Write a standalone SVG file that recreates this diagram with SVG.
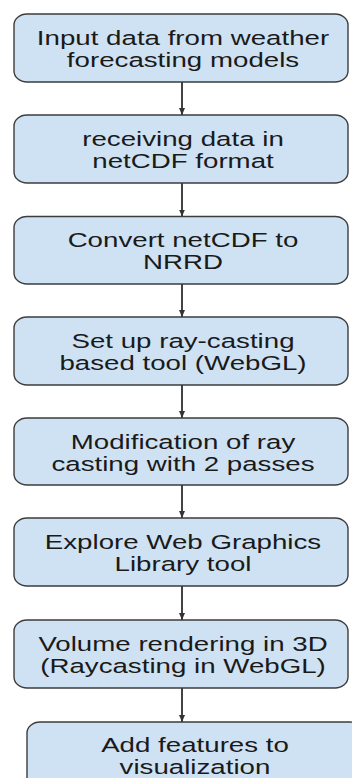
<svg xmlns="http://www.w3.org/2000/svg" width="352" height="778" viewBox="0 0 352 778">
<defs>
<style>
.box{fill:#cfe2f3;stroke:#3d3d3d;stroke-width:1.4}
.lbl{font-family:"Liberation Sans",Arial,sans-serif;font-size:19.5px;fill:#1a1a1a;text-anchor:middle}
.edge{stroke:#434343;stroke-width:2;fill:none;marker-end:url(#ah)}
</style>
<marker id="ah" markerWidth="8" markerHeight="6" refX="7" refY="3" orient="auto" markerUnits="userSpaceOnUse">
<path d="M0,0 L7,3 L0,6 Z" fill="#333"/>
</marker>
</defs>
<rect width="352" height="778" fill="#ffffff"/>
<g id="connectors">
<line class="edge" x1="182" y1="82" x2="182" y2="115"/>
<line class="edge" x1="182" y1="183" x2="182" y2="216.5"/>
<line class="edge" x1="182" y1="284" x2="182" y2="317"/>
<line class="edge" x1="182" y1="385" x2="182" y2="418"/>
<line class="edge" x1="182" y1="485" x2="182" y2="518"/>
<line class="edge" x1="182" y1="586" x2="182" y2="620"/>
<line class="edge" x1="182" y1="688" x2="182" y2="722"/>
</g>
<g id="n1">
<rect class="box" x="14" y="14" width="334" height="68" rx="13" ry="11"/>
<g transform="translate(183,0) scale(1.42,1)"><text class="lbl" x="0" y="45">Input data from weather</text><text class="lbl" x="0" y="67">forecasting models</text></g>
</g>
<g id="n2">
<rect class="box" x="14" y="115" width="334" height="68" rx="13" ry="11"/>
<g transform="translate(183,0) scale(1.42,1)"><text class="lbl" x="0" y="146">receiving data in</text><text class="lbl" x="0" y="168">netCDF format</text></g>
</g>
<g id="n3">
<rect class="box" x="14" y="216.5" width="334" height="67.5" rx="13" ry="11"/>
<g transform="translate(183,0) scale(1.42,1)"><text class="lbl" x="0" y="247.5">Convert netCDF to</text><text class="lbl" x="0" y="269.5">NRRD</text></g>
</g>
<g id="n4">
<rect class="box" x="14" y="317" width="334" height="68" rx="13" ry="11"/>
<g transform="translate(183,0) scale(1.42,1)"><text class="lbl" x="0" y="348">Set up ray-casting</text><text class="lbl" x="0" y="370">based tool (WebGL)</text></g>
</g>
<g id="n5">
<rect class="box" x="14" y="418" width="334" height="67" rx="13" ry="11"/>
<g transform="translate(183,0) scale(1.42,1)"><text class="lbl" x="0" y="449">Modification of ray</text><text class="lbl" x="0" y="471">casting with 2 passes</text></g>
</g>
<g id="n6">
<rect class="box" x="14" y="518" width="334" height="68" rx="13" ry="11"/>
<g transform="translate(183,0) scale(1.42,1)"><text class="lbl" x="0" y="549">Explore Web Graphics</text><text class="lbl" x="0" y="571">Library tool</text></g>
</g>
<g id="n7">
<rect class="box" x="14" y="620" width="334" height="68" rx="13" ry="11"/>
<g transform="translate(183,0) scale(1.42,1)"><text class="lbl" x="0" y="651">Volume rendering in 3D</text><text class="lbl" x="0" y="673">(Raycasting in WebGL)</text></g>
</g>
<g id="n8">
<rect class="box" x="27" y="722" width="336" height="68" rx="13" ry="11"/>
<g transform="translate(195,0) scale(1.42,1)"><text class="lbl" x="0" y="752">Add features to</text><text class="lbl" x="0" y="774">visualization</text></g>
</g>
</svg>
